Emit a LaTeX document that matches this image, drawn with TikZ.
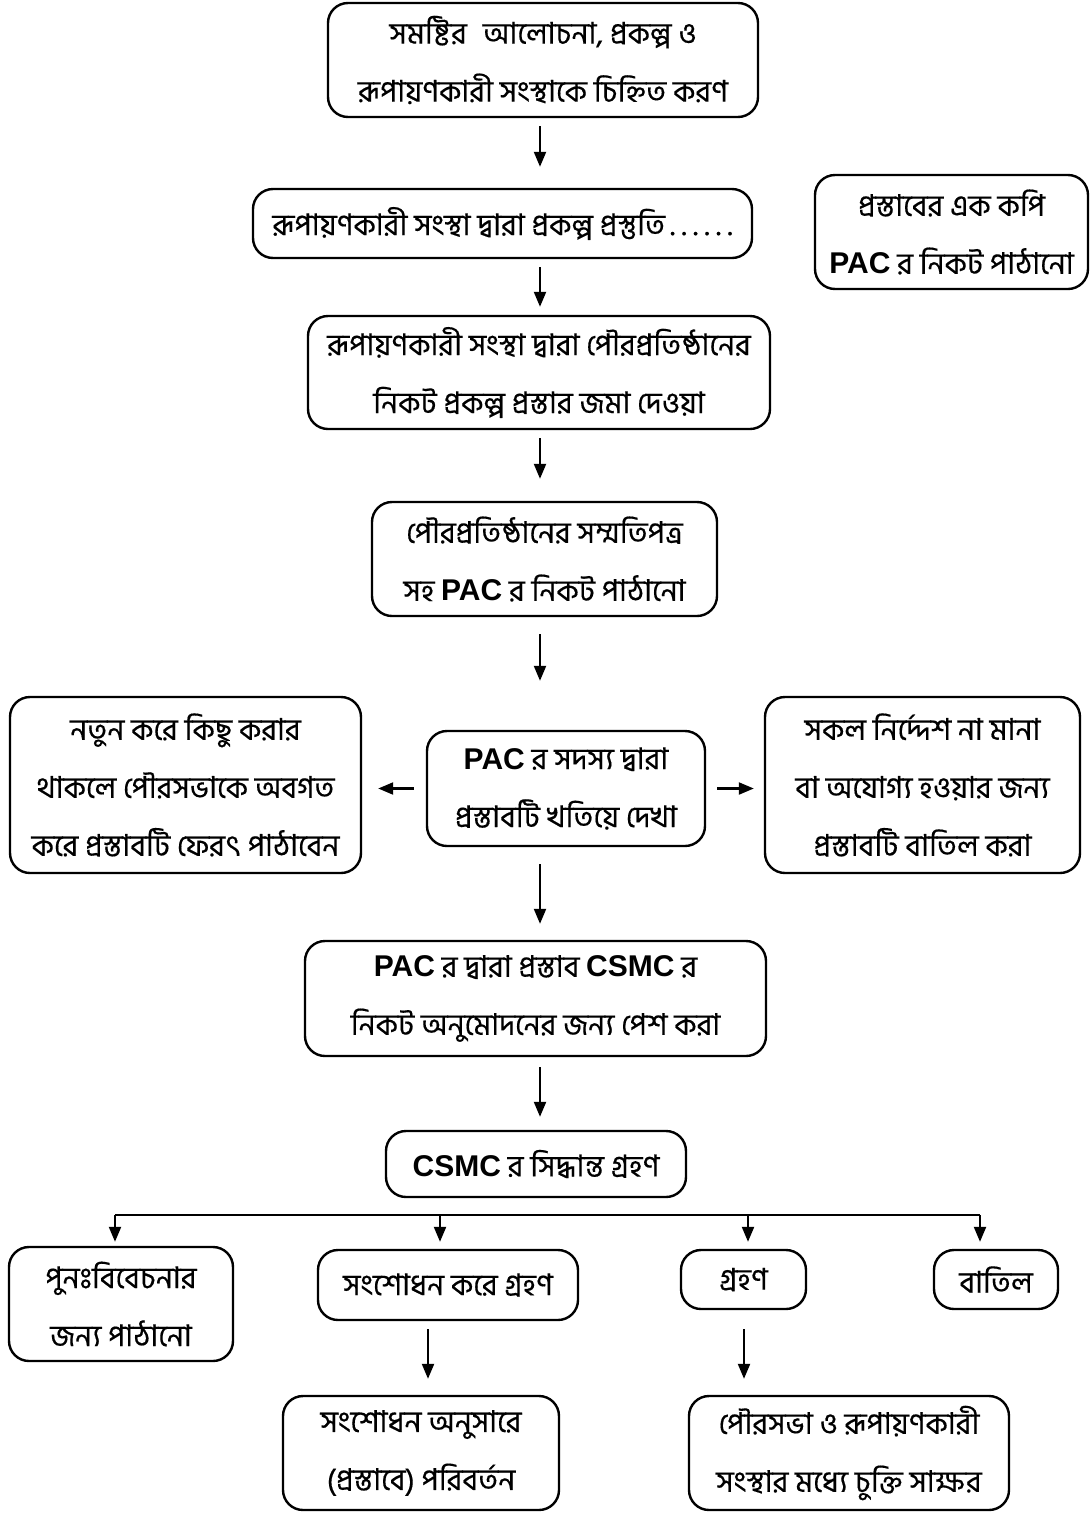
\documentclass[tikz,border=0pt]{standalone}
\usepackage{fontspec}
\setmainfont{Hind Siliguri}[Script=Bengali, FakeBold=0.4]
\newfontfamily\latf{Liberation Sans}
\newcommand\en[1]{{\latf\bfseries #1}}
\newcommand\dts{\hspace{5pt}.\hspace{6.5pt}.\hspace{6.5pt}.\hspace{6.5pt}.\hspace{6.5pt}.\hspace{6.5pt}.}
\usetikzlibrary{arrows.meta}
\begin{document}
\begin{tikzpicture}[x=1pt,y=-1pt,
  box/.style={draw, line width=2.4pt, rounded corners=20pt, align=center, inner sep=0pt,
    font=\fontsize{30}{58}\selectfont},
  arr/.style={line width=2.2pt, -{Triangle[length=15pt,width=12pt]}}]
\useasboundingbox (0,0) rectangle (1092,1513);

\node[box, minimum width=430, minimum height=114] (n1) at (543,60)
  {সমষ্টির\hspace{16pt}আলোচনা, প্রকল্প ও\\রূপায়ণকারী সংস্থাকে চিহ্নিত করণ};
\node[box, minimum width=499, minimum height=69] (n2) at (502.5,223.5)
  {রূপায়ণকারী সংস্থা দ্বারা প্রকল্প প্রস্তুতি\dts};
\node[box, minimum width=273, minimum height=114] (side) at (951.5,232)
  {প্রস্তাবের এক কপি\\\en{PAC} র নিকট পাঠানো};
\node[box, minimum width=462, minimum height=113] (n3) at (539,372.5)
  {রূপায়ণকারী সংস্থা দ্বারা পৌরপ্রতিষ্ঠানের\\নিকট প্রকল্প প্রস্তার জমা দেওয়া};
\node[box, minimum width=345, minimum height=114] (n4) at (544.5,559)
  {পৌরপ্রতিষ্ঠানের সম্মতিপত্র\\সহ \en{PAC} র নিকট পাঠানো};
\node[box, minimum width=351, minimum height=176] (left) at (185.5,785)
  {নতুন করে কিছু করার\\থাকলে পৌরসভাকে অবগত\\করে প্রস্তাবটি ফেরৎ পাঠাবেন};
\node[box, minimum width=278, minimum height=115] (pac) at (566,788.5)
  {\en{PAC} র সদস্য দ্বারা\\প্রস্তাবটি খতিয়ে দেখা};
\node[box, minimum width=315, minimum height=176] (right) at (922.5,785)
  {সকল নির্দ্দেশ না মানা\\বা অযোগ্য হওয়ার জন্য\\প্রস্তাবটি বাতিল করা};
\node[box, minimum width=461, minimum height=115] (n5) at (535.5,998.5)
  {\en{PAC} র দ্বারা প্রস্তাব \en{CSMC} র\\নিকট অনুমোদনের জন্য পেশ করা};
\node[box, minimum width=300, minimum height=66] (csmc) at (536,1164)
  {\en{CSMC} র সিদ্ধান্ত গ্রহণ};
\node[box, minimum width=224, minimum height=114] (ra) at (121,1304)
  {পুনঃবিবেচনার\\জন্য পাঠানো};
\node[box, minimum width=260, minimum height=70] (rb) at (448,1285)
  {সংশোধন করে গ্রহণ};
\node[box, minimum width=125, minimum height=59] (rc) at (743.5,1279.5)
  {গ্রহণ};
\node[box, minimum width=124, minimum height=59] (rd) at (996,1279.5)
  {বাতিল};
\node[box, minimum width=276, minimum height=114] (re) at (421,1453)
  {সংশোধন অনুসারে\\(প্রস্তাবে) পরিবর্তন};
\node[box, minimum width=320, minimum height=114] (rf) at (849,1453)
  {পৌরসভা ও রূপায়ণকারী\\সংস্থার মধ্যে চুক্তি সাক্ষর};

\coordinate (col) at (540,0);
\draw[arr, shorten <=8pt, shorten >=21pt] (n1.south -| col) -- (n2.north -| col);
\draw[arr, shorten <=8pt, shorten >=8pt] (n2.south -| col) -- (n3.north -| col);
\draw[arr, shorten <=8pt, shorten >=22pt] (n3.south -| col) -- (n4.north -| col);
\draw[arr, shorten <=17pt, shorten >=49pt] (n4.south -| col) -- (pac.north -| col);
\draw[arr, shorten <=12pt, shorten >=16pt] (pac.west) -- (pac.west -| left.east);
\draw[arr, shorten <=11pt, shorten >=10pt] (pac.east) -- (pac.east -| right.west);
\draw[arr, shorten <=17pt, shorten >=16pt] (pac.south -| col) -- (n5.north -| col);
\draw[arr, shorten <=10pt, shorten >=13pt] (n5.south -| col) -- (csmc.north -| col);

\coordinate (b1) at (115,1215);
\coordinate (b2) at (440,1215);
\coordinate (b3) at (748,1215);
\coordinate (b4) at (980,1215);
\draw[line width=2.2pt] (b1) -- (b4);
\draw[arr, shorten >=4pt] (b1) -- (b1 |- ra.north);
\draw[arr, shorten >=7pt] (b2) -- (b2 |- rb.north);
\draw[arr, shorten >=7pt] (b3) -- (b3 |- rc.north);
\draw[arr, shorten >=7pt] (b4) -- (b4 |- rd.north);

\coordinate (c2) at (428,0);
\coordinate (c3) at (744,0);
\draw[arr, shorten <=8pt, shorten >=16pt] (rb.south -| c2) -- (re.north -| c2);
\draw[arr, shorten <=19pt, shorten >=16pt] (rc.south -| c3) -- (rf.north -| c3);
\end{tikzpicture}
\end{document}
